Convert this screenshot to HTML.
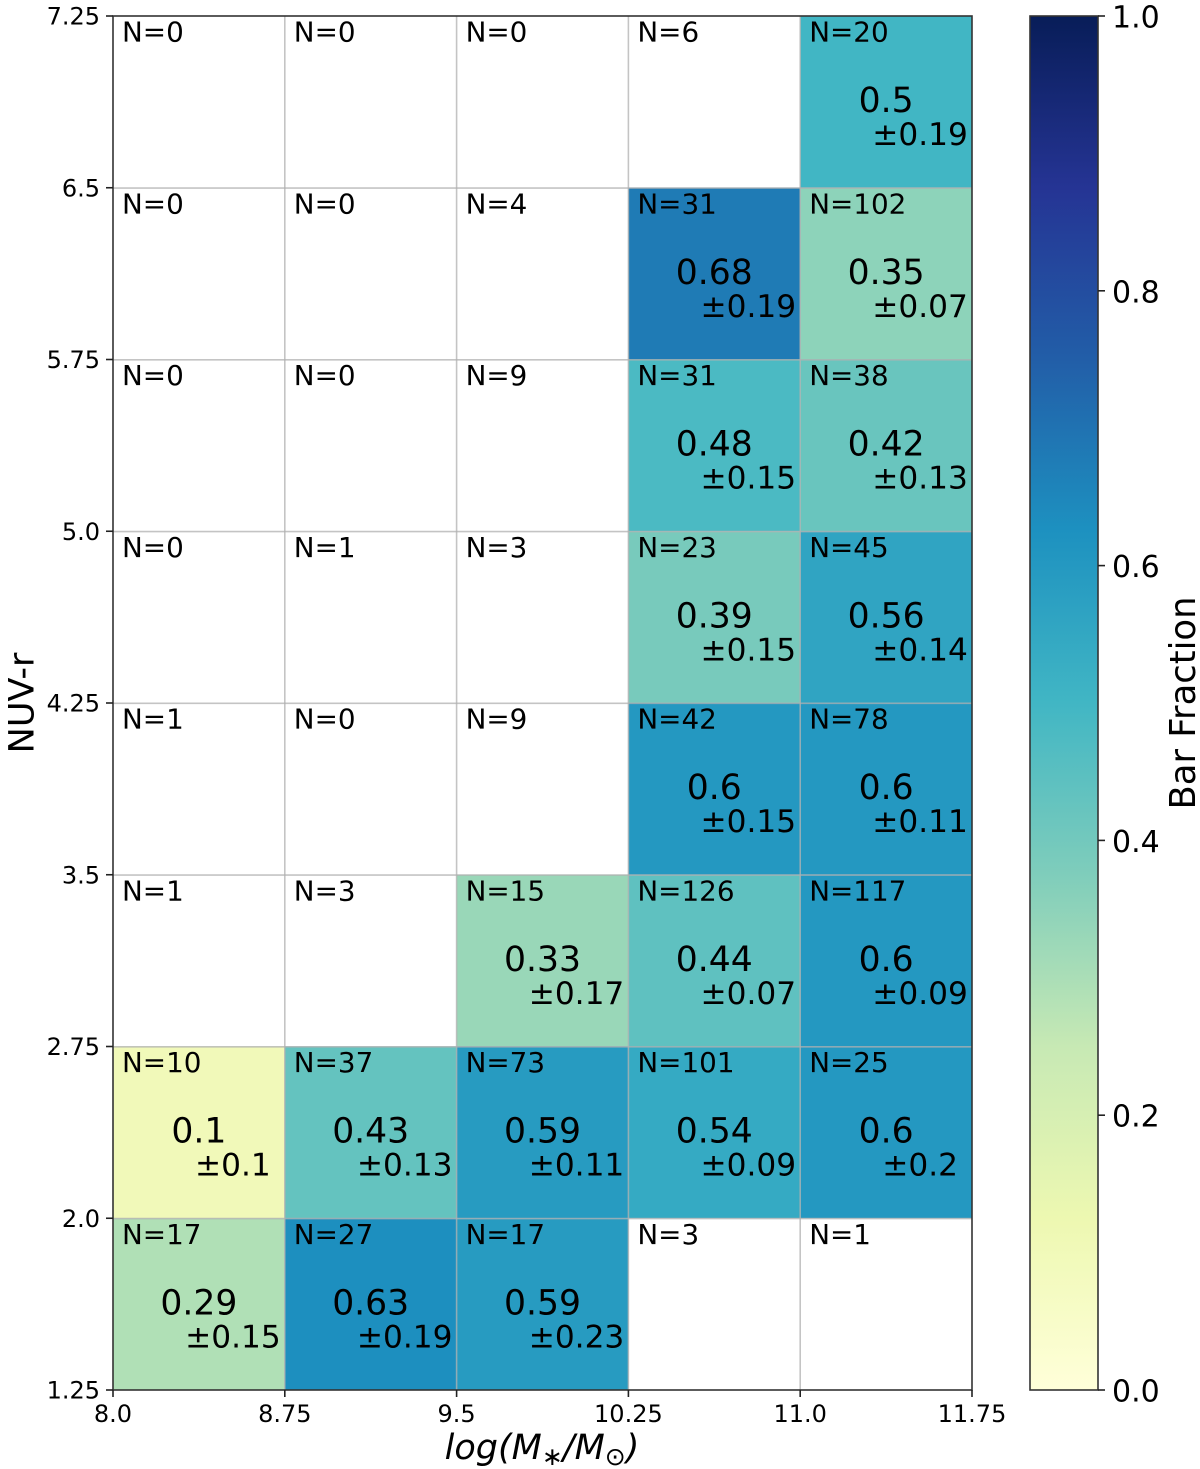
<!DOCTYPE html>
<html>
<head>
<meta charset="utf-8">
<title>Bar Fraction Heatmap</title>
<style>
html,body{margin:0;padding:0;background:#fff;}
svg{display:block;font-family:"DejaVu Sans",sans-serif;}
</style>
</head>
<body>
<svg id="chart" xmlns="http://www.w3.org/2000/svg" width="1200" height="1469" viewBox="0 0 1200 1469">
<defs><linearGradient id="cbGrad" x1="0" y1="1" x2="0" y2="0"></linearGradient></defs>
<g id="cells"></g>
<g id="grid"></g>
<g id="labels"></g>
<rect x="113" y="16" width="859" height="1374" fill="none" stroke="#333" stroke-width="1.6"/>
<g id="xaxis"></g>
<g id="yaxis"></g>
<text x="542" y="1459" text-anchor="middle" font-size="35" font-style="italic" fill="#000">log(M<tspan font-size="25" dy="6" font-style="normal">∗</tspan><tspan dy="-6">/M</tspan><tspan font-size="25" dy="6" font-style="normal">⊙</tspan><tspan dy="-6">)</tspan></text>
<text transform="translate(33.5,703) rotate(-90)" text-anchor="middle" font-size="35" fill="#000">NUV-r</text>
<rect id="cbar" x="1030" y="16" width="68" height="1374" fill="url(#cbGrad)" stroke="#333" stroke-width="1.6"/>
<g id="cbticks"></g>
<text transform="translate(1195,703) rotate(-90)" text-anchor="middle" font-size="35.4" fill="#000">Bar Fraction</text>
</svg>
<script>
const xTickValues = [8.0, 8.75, 9.5, 10.25, 11.0, 11.75];
const xTickLabels = ["8.0", "8.75", "9.5", "10.25", "11.0", "11.75"];
const yTickValues = [1.25, 2.0, 2.75, 3.5, 4.25, 5.0, 5.75, 6.5, 7.25];
const yTickLabels = ["1.25", "2.0", "2.75", "3.5", "4.25", "5.0", "5.75", "6.5", "7.25"];
const cbTickValues = [0, 0.2, 0.4, 0.6, 0.8, 1.0];
const cbTickLabels = ["0.0", "0.2", "0.4", "0.6", "0.8", "1.0"];

// rows are listed from the lowest NUV-r bin upward; columns by increasing mass
const counts = [
  [17, 27, 17, 3, 1],
  [10, 37, 73, 101, 25],
  [1, 3, 15, 126, 117],
  [1, 0, 9, 42, 78],
  [0, 1, 3, 23, 45],
  [0, 0, 9, 31, 38],
  [0, 0, 4, 31, 102],
  [0, 0, 0, 6, 20]
];
const fractions = [
  [0.29, 0.63, 0.59, null, null],
  [0.1, 0.43, 0.59, 0.54, 0.6],
  [null, null, 0.33, 0.44, 0.6],
  [null, null, null, 0.6, 0.6],
  [null, null, null, 0.39, 0.56],
  [null, null, null, 0.48, 0.42],
  [null, null, null, 0.68, 0.35],
  [null, null, null, null, 0.5]
];
const errors = [
  [0.15, 0.19, 0.23, null, null],
  [0.1, 0.13, 0.11, 0.09, 0.2],
  [null, null, 0.17, 0.07, 0.09],
  [null, null, null, 0.15, 0.11],
  [null, null, null, 0.15, 0.14],
  [null, null, null, 0.15, 0.13],
  [null, null, null, 0.19, 0.07],
  [null, null, null, null, 0.19]
];
const cmapStops = ["#ffffd9", "#edf8b1", "#c7e9b4", "#7fcdbb", "#41b6c4", "#1d91c0", "#225ea8", "#253494", "#081d58"];

const NS = "http://www.w3.org/2000/svg";
const xScale = v => 113 + (v - 8) / 3.75 * 859;
const yScale = v => 1390 - (v - 1.25) / 6 * 1374;
const cbScale = v => 1390 - v * 1374;

function hexToRgb(h) {
  return [parseInt(h.slice(1, 3), 16), parseInt(h.slice(3, 5), 16), parseInt(h.slice(5, 7), 16)];
}
function colorFor(v) {
  const p = Math.max(0, Math.min(1, v)) * (cmapStops.length - 1);
  const i = Math.min(Math.floor(p), cmapStops.length - 2);
  const t = p - i;
  const a = hexToRgb(cmapStops[i]);
  const b = hexToRgb(cmapStops[i + 1]);
  const c = a.map((q, k) => Math.round(q + (b[k] - q) * t));
  return "rgb(" + c.join(",") + ")";
}
function make(tag, attrs, parent, txt) {
  const el = document.createElementNS(NS, tag);
  for (const k in attrs) el.setAttribute(k, attrs[k]);
  if (txt !== undefined) el.textContent = txt;
  parent.appendChild(el);
  return el;
}

const gradEl = document.getElementById("cbGrad");
cmapStops.forEach((c, i) => {
  make("stop", { offset: i / (cmapStops.length - 1), "stop-color": c }, gradEl);
});

const cellsG = document.getElementById("cells");
const gridG = document.getElementById("grid");
const labelsG = document.getElementById("labels");
const xG = document.getElementById("xaxis");
const yG = document.getElementById("yaxis");
const cbG = document.getElementById("cbticks");

counts.forEach((row, r) => {
  row.forEach((n, c) => {
    const x0 = xScale(xTickValues[c]);
    const x1 = xScale(xTickValues[c + 1]);
    const yTop = yScale(yTickValues[r + 1]);
    const yBot = yScale(yTickValues[r]);
    const cx = (x0 + x1) / 2;
    const f = fractions[r][c];
    const e = errors[r][c];
    if (f !== null) {
      const rect = make("rect", { x: x0, y: yTop, width: x1 - x0, height: yBot - yTop, fill: colorFor(f) }, cellsG);
      
      
    }
    const nText = make("text", { x: x0 + 9, y: yTop + 25.5, "font-size": 27.8, fill: "#000" }, labelsG, "N=" + n);
    
    
    if (f !== null) {
      const vText = make("text", { x: cx, y: yTop + 96, "text-anchor": "middle", "font-size": 34.6, fill: "#000" }, labelsG, String(f));
      
      
      const eText = make("text", { x: cx + 34, y: yTop + 129, "text-anchor": "middle", "font-size": 31.2, fill: "#000" }, labelsG, "±" + e);
      
      
    }
  });
});

xTickValues.forEach((v, i) => {
  const x = xScale(v);
  if (i > 0 && i < xTickValues.length - 1) {
    const g = make("line", { x1: x, x2: x, y1: 16, y2: 1390, stroke: "#b0b0b0", "stroke-opacity": 0.75, "stroke-width": 1.6 }, gridG);
    
    
  }
  const t = make("line", { x1: x, x2: x, y1: 1390, y2: 1397, stroke: "#222", "stroke-width": 1.6 }, xG);
  
  
  const l = make("text", { x: x, y: 1422, "text-anchor": "middle", "font-size": 24, fill: "#000" }, xG, xTickLabels[i]);
  
  
});

yTickValues.forEach((v, i) => {
  const y = yScale(v);
  if (i > 0 && i < yTickValues.length - 1) {
    const g = make("line", { x1: 113, x2: 972, y1: y + 0.3, y2: y + 0.3, stroke: "#b0b0b0", "stroke-opacity": 0.75, "stroke-width": 1.6 }, gridG);
    
    
  }
  const t = make("line", { x1: 106, x2: 113, y1: y, y2: y, stroke: "#222", "stroke-width": 1.6 }, yG);
  
  
  const l = make("text", { x: 100, y: y + 8.5, "text-anchor": "end", "font-size": 24, fill: "#000" }, yG, yTickLabels[i]);
  
  
});

cbTickValues.forEach((v, i) => {
  const y = cbScale(v);
  const t = make("line", { x1: 1098, x2: 1105, y1: y, y2: y, stroke: "#222", "stroke-width": 1.6 }, cbG);
  
  
  const l = make("text", { x: 1112, y: y + 11.5, "font-size": 30, fill: "#000" }, cbG, cbTickLabels[i]);
  
  
});
</script>
</body>
</html>
